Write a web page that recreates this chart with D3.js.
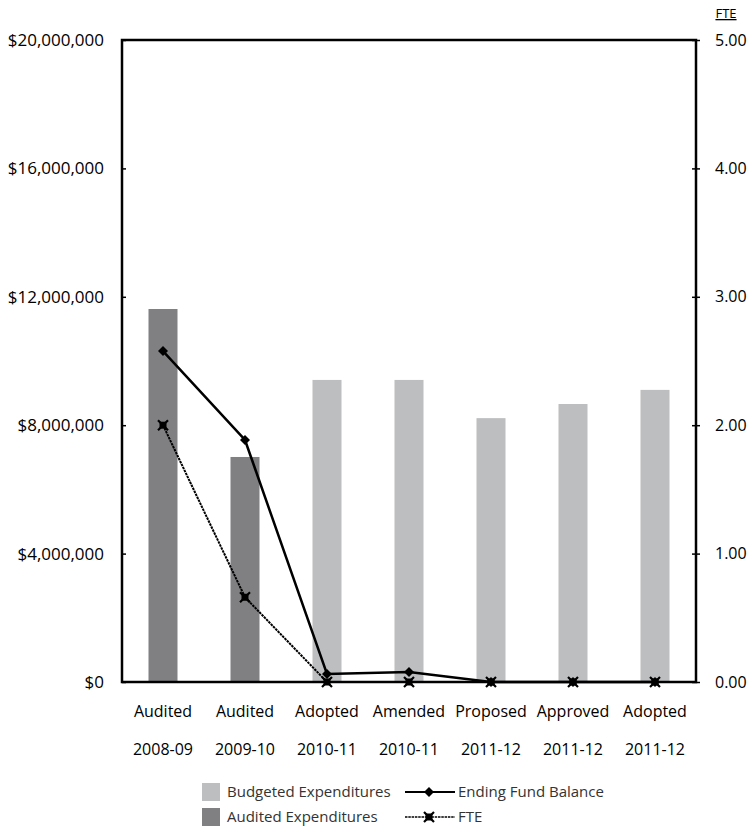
<!DOCTYPE html>
<html>
<head>
<meta charset="utf-8">
<script src="https://cdn.jsdelivr.net/npm/d3@7"></script>
<style>
  html, body { margin: 0; padding: 0; background: #fff; }
  svg text { font-family: "Open Sans", "Noto Sans", sans-serif; }
</style>
</head>
<body>
<svg id="chart" width="748" height="827"></svg>
<script>
// Budget history by fiscal year
const statusLabels = ["Audited", "Audited", "Adopted", "Amended", "Proposed", "Approved", "Adopted"];
const yearLabels   = ["2008-09", "2009-10", "2010-11", "2010-11", "2011-12", "2011-12", "2011-12"];
const expenditures = [11620000, 7010000, 9410000, 9410000, 8220000, 8660000, 9100000];
const isAudited    = [true, true, false, false, false, false, false];
const fundBalance  = [10310000, 7540000, 250000, 310000, 0, 0, 0];
const fte          = [2.00, 0.66, 0, 0, 0, 0, 0];
const dollarTicks  = [0, 4000000, 8000000, 12000000, 16000000, 20000000];
const fteTicks     = [0, 1, 2, 3, 4, 5];

const colAudited = "#808083";
const colBudget = "#bdbec0";

const svg = d3.select("#chart");
const m = { left: 122, right: 696, top: 40, bottom: 682 };

const x = d3.scaleBand().domain(d3.range(statusLabels.length)).range([m.left, m.right]);
const yL = d3.scaleLinear().domain([0, 20000000]).range([m.bottom, m.top]);
const yR = d3.scaleLinear().domain([0, 5]).range([m.bottom, m.top]);
const barW = 29;

// bars
svg.append("g").selectAll("rect").data(expenditures).join("rect")
  .attr("x", (d, i) => x(i) + x.bandwidth() / 2 - barW / 2)
  .attr("width", barW)
  .attr("y", d => yL(d))
  .attr("height", d => yL(0) - yL(d))
  .attr("fill", (d, i) => isAudited[i] ? colAudited : colBudget);

// frame
svg.append("rect")
  .attr("x", m.left).attr("y", m.top)
  .attr("width", m.right - m.left).attr("height", m.bottom - m.top)
  .attr("fill", "none").attr("stroke", "#000").attr("stroke-width", 2.5);

// left axis
const fmtDollar = d => "$" + d3.format(",")(d);
const axL = svg.append("g").attr("transform", `translate(${m.left},0)`)
  .call(d3.axisLeft(yL).tickValues(dollarTicks).tickFormat(fmtDollar).tickSizeInner(-4).tickSizeOuter(0).tickPadding(18));
axL.select(".domain").remove();
axL.selectAll("line").attr("stroke", "#000").attr("stroke-width", 1.5);
axL.selectAll("text").attr("font-size", 17).attr("fill", "#000");

// right axis
const axR = svg.append("g").attr("transform", `translate(${m.right},0)`)
  .call(d3.axisRight(yR).tickValues(fteTicks).tickFormat(d3.format(".2f")).tickSizeInner(4).tickSizeOuter(0).tickPadding(15));
axR.select(".domain").remove();
axR.selectAll("line").attr("x1", -4).attr("stroke", "#000").attr("stroke-width", 1.5);
axR.selectAll("text").attr("font-size", 16).attr("fill", "#000");

svg.append("text").attr("x", 726).attr("y", 18).attr("text-anchor", "middle")
  .attr("font-size", 13).attr("fill", "#000").attr("text-decoration", "underline").text("FTE");

// category labels
const cx = i => x(i) + x.bandwidth() / 2;
svg.append("g").selectAll("text").data(statusLabels).join("text")
  .attr("x", (d, i) => cx(i)).attr("y", 717).attr("text-anchor", "middle")
  .attr("font-size", 16).attr("fill", "#000").text(d => d);
svg.append("g").selectAll("text").data(yearLabels).join("text")
  .attr("x", (d, i) => cx(i)).attr("y", 755).attr("text-anchor", "middle")
  .attr("font-size", 16).attr("fill", "#000").text(d => d);

// marker shapes
const diamond = (g, px, py) => g.append("path")
  .attr("d", `M${px},${py - 5}L${px + 5},${py}L${px},${py + 5}L${px - 5},${py}Z`).attr("fill", "#000");
const xMark = (g, px, py) => {
  g.append("rect").attr("x", px - 3.5).attr("y", py - 3.5).attr("width", 7).attr("height", 7).attr("fill", "#000");
  g.append("path").attr("d", `M${px - 5},${py - 5}L${px + 5},${py + 5}M${px - 5},${py + 5}L${px + 5},${py - 5}`)
    .attr("stroke", "#000").attr("stroke-width", 2.2);
};

// FTE line
const fteLine = d3.line().x((d, i) => cx(i)).y(d => yR(d));
svg.append("path").datum(fte).attr("d", fteLine)
  .attr("fill", "none").attr("stroke", "#000").attr("stroke-width", 2).attr("stroke-dasharray", "2.5,0.8");
const gF = svg.append("g");
fte.forEach((d, i) => xMark(gF, cx(i), yR(d)));

// Ending fund balance line
const fbLine = d3.line().x((d, i) => cx(i)).y(d => yL(d));
svg.append("path").datum(fundBalance).attr("d", fbLine)
  .attr("fill", "none").attr("stroke", "#000").attr("stroke-width", 2.5);
const gB = svg.append("g");
fundBalance.forEach((d, i) => diamond(gB, cx(i), yL(d)));

// legend
const lg = svg.append("g");
lg.append("rect").attr("x", 202).attr("y", 783).attr("width", 18).attr("height", 18).attr("fill", colBudget);
lg.append("rect").attr("x", 202).attr("y", 808).attr("width", 18).attr("height", 18).attr("fill", colAudited);
lg.append("text").attr("x", 227).attr("y", 797).attr("font-size", 15).attr("fill", "#333").text("Budgeted Expenditures");
lg.append("text").attr("x", 227).attr("y", 822).attr("font-size", 15).attr("fill", "#333").text("Audited Expenditures");
lg.append("line").attr("x1", 405).attr("x2", 455).attr("y1", 792).attr("y2", 792).attr("stroke", "#000").attr("stroke-width", 2);
diamond(lg, 429, 792);
lg.append("line").attr("x1", 405).attr("x2", 455).attr("y1", 817).attr("y2", 817).attr("stroke", "#000").attr("stroke-width", 1.5).attr("stroke-dasharray", "2.5,0.8");
xMark(lg, 429, 817);
lg.append("text").attr("x", 458).attr("y", 797).attr("font-size", 15).attr("fill", "#333").text("Ending Fund Balance");
lg.append("text").attr("x", 458).attr("y", 822).attr("font-size", 15).attr("fill", "#333").text("FTE");
</script>
</body>
</html>
